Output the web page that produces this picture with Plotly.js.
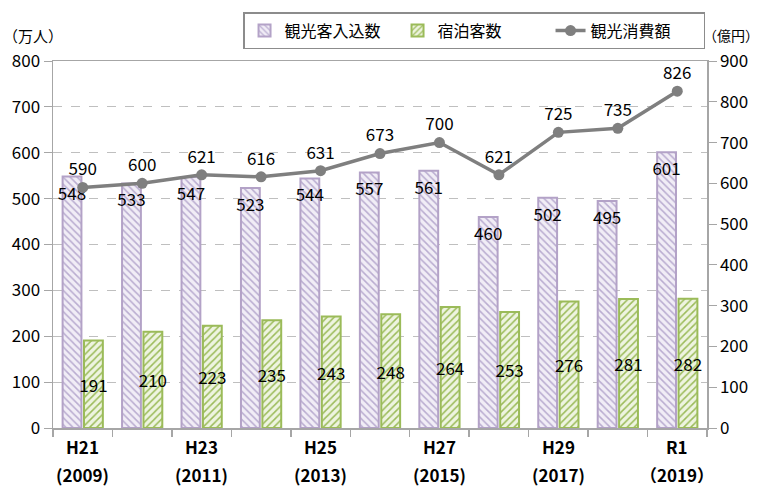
<!DOCTYPE html>
<html><head><meta charset="utf-8">
<script src="https://cdn.plot.ly/plotly-3.0.1.min.js"></script>
<style>html,body{margin:0;padding:0;background:#fff}#c{width:761px;height:488px}</style>
</head><body><div id="c"></div>
<script>
const years = [2009,2010,2011,2012,2013,2014,2015,2016,2017,2018,2019];
const visitors = [548,533,547,523,544,557,561,460,502,495,601];
const stays = [191,210,223,235,243,248,264,253,276,281,282];
const spending = [590,600,621,616,631,673,700,621,725,735,826];
const tickYears = [2009,2011,2013,2015,2017,2019];
const tickEra = ['H21','H23','H25','H27','H29','R1'];
const tickYearText = ['(2009)','(2011)','(2013)','(2015)','(2017)','（2019）'];
const seriesNames = ['観光客入込数','宿泊客数','観光消費額'];

const F = '"Noto Sans CJK JP", "Noto Sans", sans-serif';
const traces = [
  {type:'bar', x:years, y:visitors, name:seriesNames[0],
   marker:{color:'#ebe6f2', line:{color:'#b3a2c7', width:2},
     pattern:{shape:'\\', fgcolor:'#b9acd0', bgcolor:'#f1edf6', size:5, solidity:0.3}},
   text:visitors.map(String), textposition:'inside', insidetextanchor:'end', constraintext:'none', textangle:0,
   textfont:{size:17, color:'#000', family:F}, hoverinfo:'y'},
  {type:'bar', x:years, y:stays, name:seriesNames[1],
   marker:{color:'#e4edd2', line:{color:'#9bbb59', width:2},
     pattern:{shape:'/', fgcolor:'#9bbb59', bgcolor:'#eef4e0', size:5, solidity:0.3}},
   text:stays.map(String), textposition:'inside', insidetextanchor:'middle', constraintext:'none', textangle:0,
   textfont:{size:17, color:'#000', family:F}, hoverinfo:'y'},
  {type:'scatter', mode:'lines+markers+text', x:years, y:spending, yaxis:'y2', name:seriesNames[2],
   line:{color:'#7f7f7f', width:3.5}, marker:{color:'#7f7f7f', size:11},
   text:spending.map(String), textposition:'top center',
   textfont:{size:17, color:'#000', family:F}}
];

const annotations = [
  {text:'（万人）', xref:'paper', yref:'paper', x:-0.08, y:1.07, xanchor:'left', yanchor:'middle', showarrow:false, font:{size:15}},
  {text:'（億円）', xref:'paper', yref:'paper', x:1.083, y:1.07, xanchor:'right', yanchor:'middle', showarrow:false, font:{size:14}}
];
tickYears.forEach((yr, i) => {
  annotations.push({text:tickEra[i], xref:'x', yref:'paper', x:yr, y:-0.05, yanchor:'middle', showarrow:false,
    font:{size:17, weight:'bold'}});
  annotations.push({text:tickYearText[i], xref:'x', yref:'paper', x:yr, y:-0.128, yanchor:'middle', showarrow:false,
    font:{size:17, weight:'bold'}});
});

const layout = {
  width:761, height:488,
  margin:{l:53, r:54, t:59, b:60},
  paper_bgcolor:'#fff', plot_bgcolor:'#fff',
  font:{family:F, size:17, color:'#000'},
  barmode:'group', bargap:0.28, bargroupgap:0.12,
  showlegend:true,
  legend:{orientation:'h', x:0.997, y:1.133, xanchor:'right', yanchor:'top',
    bordercolor:'#8c8c8c', borderwidth:1.5, font:{size:16, family:F},
    traceorder:'normal', itemwidth:30, entrywidth:108},
  xaxis:{range:[2008.5,2019.5], tickmode:'array', tickvals:tickYears, showticklabels:false,
    ticks:'', showgrid:false, zeroline:false, showline:true, linecolor:'#a6a6a6', linewidth:1.5, mirror:true,
    minor:{tickmode:'linear', tick0:2008.5, dtick:1, ticks:'outside', ticklen:7, tickwidth:1.5, tickcolor:'#a6a6a6', showgrid:false}},
  yaxis:{range:[0,800], dtick:100, showline:true, linecolor:'#a6a6a6', linewidth:1.5,
    ticks:'outside', ticklen:8, tickcolor:'#a6a6a6', showgrid:true, gridcolor:'#bfbfbf', griddash:'dash',
    zeroline:false, tickfont:{size:17}},
  yaxis2:{range:[0,900], dtick:100, overlaying:'y', side:'right', showline:true, linecolor:'#a6a6a6', linewidth:1.5,
    ticks:'outside', ticklen:8, tickcolor:'#a6a6a6', showgrid:false, zeroline:false, tickfont:{size:17}},
  annotations:annotations
};
Plotly.newPlot('c', traces, layout, {displayModeBar:false, staticPlot:true});
</script></body></html>
